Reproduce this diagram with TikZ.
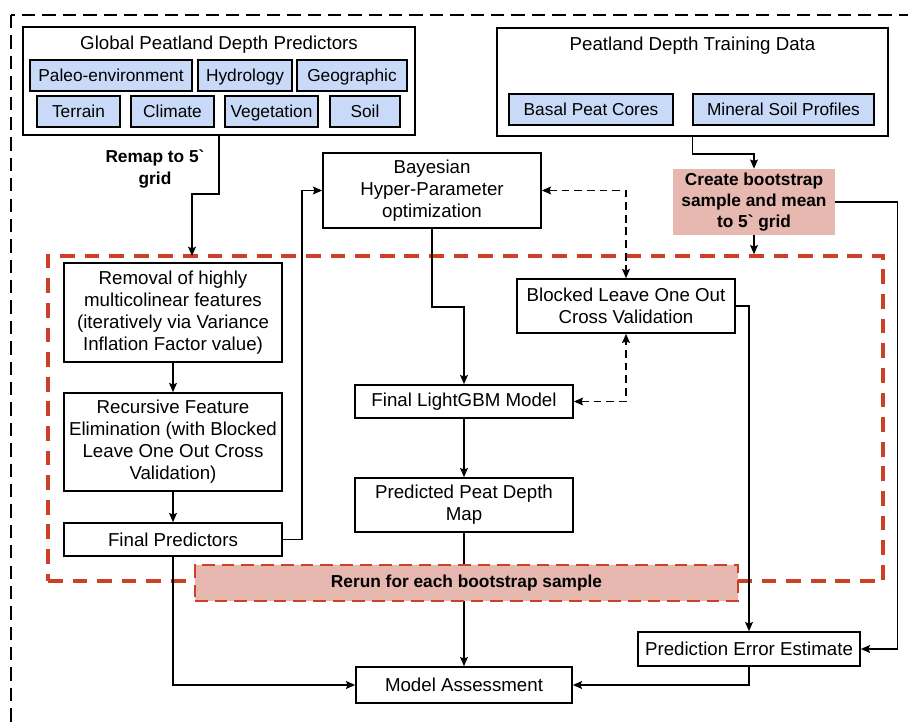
\documentclass[tikz,border=0pt]{standalone}
\usepackage{fontspec}
\setmainfont{Liberation Sans}
\usetikzlibrary{shapes,arrows,arrows.meta,positioning,fit,backgrounds,calc}

\definecolor{tagblue}{HTML}{C9DAF8}
\definecolor{loopred}{HTML}{CC4125}
\definecolor{bootpink}{HTML}{E6B8AF}

\begin{document}
\begin{tikzpicture}[x=0.025cm, y=-0.025cm,
    box/.style={rectangle, draw, line width=1.1pt, fill=white, align=center, inner sep=0pt, minimum width=5.45cm, font=\fontsize{13.3}{15.6}\selectfont},
    panel/.style={rectangle, draw, line width=1.1pt, minimum width=9.8cm, minimum height=2.7cm},
    heading/.style={inner sep=0pt, font=\fontsize{13.3}{15.6}\selectfont},
    tag/.style={rectangle, draw, line width=1.1pt, fill=tagblue, inner sep=0pt, text height=8.9pt, text depth=0pt, minimum height=0.775cm, font=\fontsize{12.3}{14.5}\selectfont},
    note/.style={align=center, inner sep=0pt, font=\fontsize{12.3}{15}\selectfont\bfseries},
    repeatzone/.style={rectangle, draw=loopred, line width=2.4pt, dash pattern=on 10.5pt off 7pt, inner sep=0pt},
    rerunbox/.style={note, fill=bootpink, draw=loopred, line width=2pt, dash pattern=on 9pt off 5pt, minimum width=13.575cm, minimum height=0.9cm},
    arrow/.style={->, >={Stealth[length=6.5pt, width=5.5pt, inset=1pt]}, line width=1.1pt},
    exchange/.style={<->, >={Stealth[length=6.5pt, width=5.5pt, inset=1pt]}, line width=1.1pt, dash pattern=on 5.5pt off 3.5pt}
]

\useasboundingbox (0,0) rectangle (908,728);
\clip (0,0) rectangle (908,728);

% outer frame
\draw[line width=1pt, dash pattern=on 9.5pt off 5pt] (11,15) rectangle (940,760);

% bootstrap loop region
\node[repeatzone, minimum width=20.875cm, minimum height=8.125cm] (bootloop) at (465.5,418.5) {};

% Predictors (top left)
\node[panel] (predictors) at (219,81) {};
\node[heading] (predtitle) at (219,45) {Global Peatland Depth Predictors};
\node[tag, minimum width=4.05cm] (paleo) at (111,75.5) {Paleo-environment};
\node[tag, minimum width=2.35cm] (hydro) at (245,75.5) {Hydrology};
\node[tag, minimum width=2.75cm] (geo) at (352,75.5) {Geographic};
\node[tag, minimum width=2.075cm] (terrain) at (78.5,111.5) {Terrain};
\node[tag, minimum width=2.075cm] (climate) at (172.5,111.5) {Climate};
\node[tag, minimum width=2.325cm] (vegetation) at (271.5,111.5) {Vegetation};
\node[tag, minimum width=1.75cm] (soil) at (365,111.5) {Soil};

% Training data (top right)
\node[panel, minimum width=9.775cm] (training) at (692.5,82) {};
\node[heading] (traintitle) at (692.5,46) {Peatland Depth Training Data};
\node[tag, minimum width=4.1cm] (basal) at (591,109.5) {Basal Peat Cores};
\node[tag, minimum width=4.525cm] (mineral) at (783.5,109.5) {Mineral Soil Profiles};

\node[note, fill=bootpink, minimum width=4.05cm, minimum height=1.65cm] (create) at (754,202) {Create bootstrap\\sample and mean\\to 5\textasciigrave\ grid};
\node[note] (remap) at (155,169) {Remap to 5\textasciigrave\\grid};

% Feature selection (left column)
\node[box, minimum height=2.475cm] (removal) at (173,312.5) {Removal of highly\\multicolinear features\\(iteratively via Variance\\Inflation Factor value)};
\node[box, minimum height=2.45cm] (rfe) at (173,442) {Recursive Feature\\Elimination (with Blocked\\Leave One Out Cross\\Validation)};
\node[box, minimum height=0.825cm] (finalpred) at (173,539.5) {Final Predictors};

% Model (middle)
\node[box, minimum height=1.875cm] (bayes) at (432,190.5) {Bayesian\\Hyper-Parameter\\optimization};
\node[box, minimum height=1.35cm] (bloo) at (626,306) {Blocked Leave One Out\\Cross Validation};
\node[box, minimum height=0.825cm] (lgbm) at (464,401.5) {Final LightGBM Model};
\node[box, minimum height=1.35cm] (depthmap) at (464,505) {Predicted Peat Depth\\Map};

% Outputs (bottom)
\node[box, minimum width=5.4cm, minimum height=0.9cm] (assess) at (464,685) {Model Assessment};
\node[box, minimum width=5.55cm, minimum height=0.85cm] (errest) at (749,649) {Prediction Error Estimate};

\coordinate (remapin) at (192,256);

% Arrows from inputs
\draw[arrow] (predictors.south) -- ++(0,58) -| (remapin);
\draw[arrow] (training.south) -- ++(0,17) -| (create.north);
\draw[arrow] (create.south) -- (create.south |- bootloop.north);
\draw[arrow] (create.east) -- ++(62,0) |- (errest.east);

% Feature selection chain
\draw[arrow] (removal) -- (rfe);
\draw[arrow] (rfe) -- (finalpred);
\draw[arrow] (finalpred.east) -- ++(19,0) |- (bayes.west);

% Model chain
\draw[arrow] (bayes.south) -- ++(0,78) -| (lgbm.north);
\draw[exchange] (bayes.east) -| (bloo.north);
\draw[exchange] (lgbm.east) -| (bloo.south);
\draw[arrow] (lgbm) -- (depthmap);
\draw[arrow] (depthmap) -- (assess);

% Assessment
\draw[arrow] (finalpred.south) |- (assess.west);
\draw[arrow] (bloo.east) -| (errest.north);
\draw[arrow] (errest.south) |- (assess.east);

\node[rerunbox] (rerun) at (466.5,583) {Rerun for each bootstrap sample};

\end{tikzpicture}
\end{document}
